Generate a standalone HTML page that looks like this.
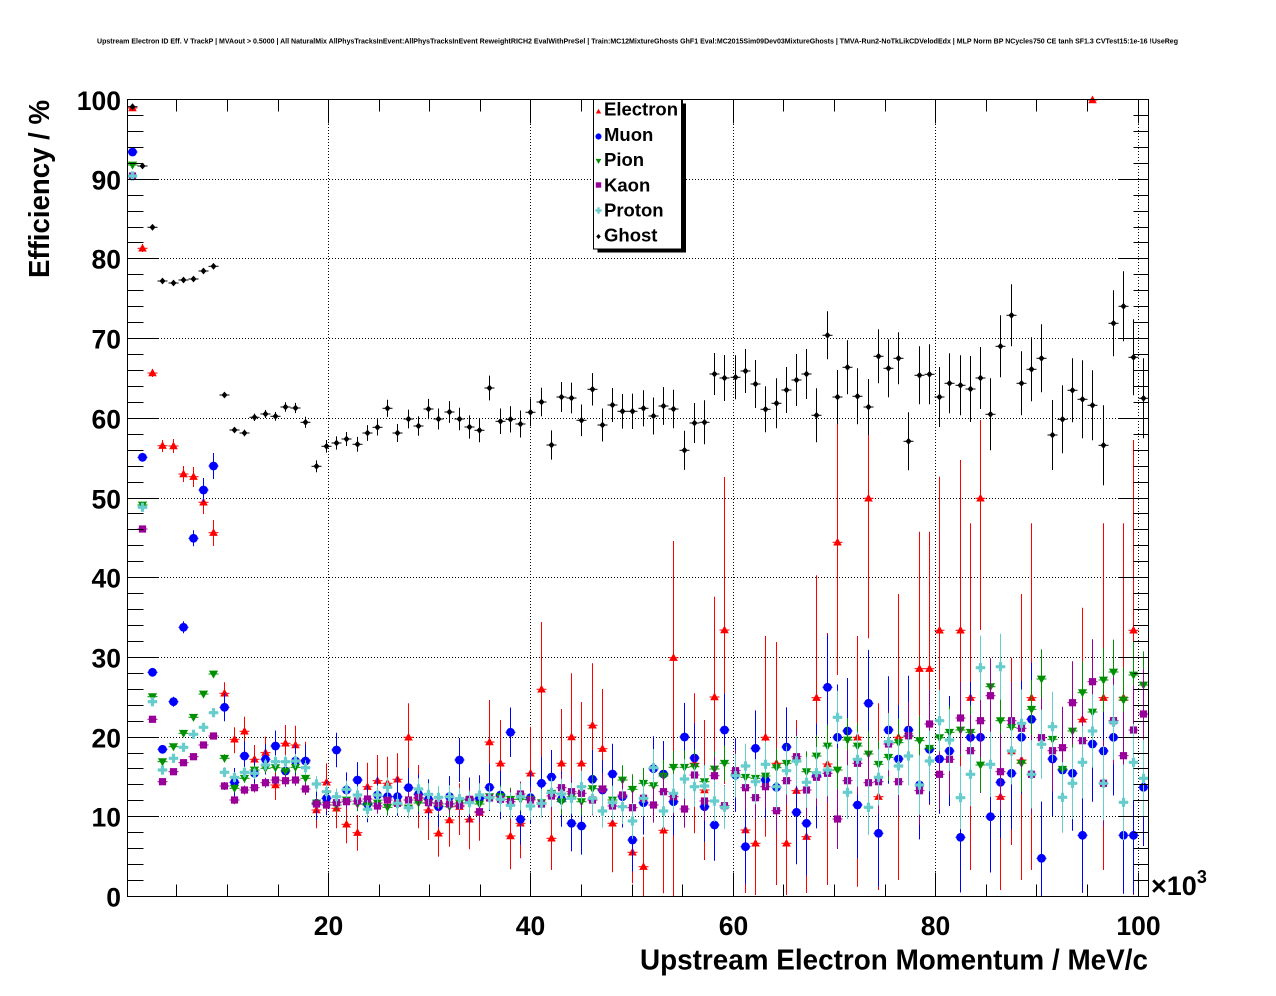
<!DOCTYPE html>
<html><head><meta charset="utf-8"><style>
html,body{margin:0;padding:0;background:#fff;overflow:hidden;}
svg{display:block;}
text{font-family:"Liberation Sans",Arial,sans-serif;font-weight:bold;fill:#000;}
</style></head><body>
<svg id="c" xmlns="http://www.w3.org/2000/svg" width="1276" height="996" viewBox="0 0 1276 996">
<rect width="1276" height="996" fill="#fff"/>
<text x="97" y="43.5" font-size="7.4" textLength="1081" lengthAdjust="spacingAndGlyphs">Upstream Electron ID Eff. V TrackP | MVAout &gt; 0.5000 | All NaturalMix AllPhysTracksInEvent:AllPhysTracksInEvent ReweightRICH2 EvalWithPreSel | Train:MC12MixtureGhosts GhF1 Eval:MC2015Sim09Dev03MixtureGhosts | TMVA-Run2-NoTkLikCDVelodEdx | MLP Norm BP NCycles750 CE tanh SF1.3 CVTest15:1e-16 !UseReg</text>
<g id="grid" stroke="#000" stroke-width="1" stroke-dasharray="1,2" fill="none"></g>
<g id="data" stroke-width="1"></g>
<g id="ticks" stroke="#000" stroke-width="1" fill="none"></g>
<rect x="127.5" y="99.5" width="1021" height="797" fill="none" stroke="#000" stroke-width="1"/>
<g font-size="26.5" text-anchor="end">
<text x="121" y="906.5">0</text>
<text x="121" y="826.5">10</text>
<text x="121" y="747.5">20</text>
<text x="121" y="667.5">30</text>
<text x="121" y="587.5">40</text>
<text x="121" y="508.5">50</text>
<text x="121" y="428.5">60</text>
<text x="121" y="348.5">70</text>
<text x="121" y="268.5">80</text>
<text x="121" y="189.5">90</text>
<text x="121" y="110">100</text>
</g>
<g font-size="26.5" text-anchor="middle">
<text x="328.5" y="935">20</text>
<text x="530.5" y="935">40</text>
<text x="733.5" y="935">60</text>
<text x="935.5" y="935">80</text>
<text x="1138.5" y="935">100</text>
</g>
<text x="1151" y="895" font-size="27">×10<tspan font-size="18" dy="-12">3</tspan></text>
<text x="1148" y="969.5" font-size="29" text-anchor="end" textLength="508" lengthAdjust="spacingAndGlyphs">Upstream Electron Momentum / MeV/c</text>
<text transform="translate(49,100) rotate(-90)" font-size="29" text-anchor="end" textLength="178" lengthAdjust="spacingAndGlyphs">Efficiency / %</text>
<g id="legend">
<rect x="597.5" y="103.5" width="88.5" height="149" fill="#000"/>
<rect x="593.5" y="99.5" width="88" height="149.5" fill="#fff" stroke="#000" stroke-width="1"/>
<g font-size="18.5">
<text x="604" y="115.7">Electron</text>
<text x="604" y="140.9">Muon</text>
<text x="604" y="166.1">Pion</text>
<text x="604" y="191.3">Kaon</text>
<text x="604" y="216.5">Proton</text>
<text x="604" y="241.7">Ghost</text>
</g>
<g id="legm"></g>
</g>
</svg>
<script>
(function(){
var NS='http://www.w3.org/2000/svg';
function el(t,a,p){var e=document.createElementNS(NS,t);for(var k in a)e.setAttribute(k,a[k]);p.appendChild(e);return e;}
var grid=document.getElementById('grid'),ticks=document.getElementById('ticks'),data=document.getElementById('data'),legm=document.getElementById('legm');
// grid
[328.5,530.5,733.5,935.5,1138.5].forEach(function(x){el('line',{x1:x,y1:100,x2:x,y2:896},grid);});
[179,258,338,418,498,577,657,737,816].forEach(function(y){el('line',{x1:128,y1:y+.5,x2:1148,y2:y+.5},grid);});
// ticks
var d='';
for(var k=1;k<=20;k++){var x=Math.floor(126.3+50.585*k)+.5;if(x>1148)continue;var L=(k%4==0)?24:12;
 d+='M'+x+' 896.5V'+(896.5-L)+'M'+x+' 99.5V'+(99.5+L);}
for(var k=1;k<=49;k++){var y=Math.round(896-15.94*k)+.5;var L1=(k%5==0)?31:16,L2=(k%5==0)?30:15;
 d+='M127.5 '+y+'H'+(127.5+L1)+'M1148.5 '+y+'H'+(1148.5-L2);}
el('path',{d:d},ticks);
function X(i){return 131.7+10.22*i;}
function mk(type,x,y,c,s,p){
 if(type=='tu'){el('polygon',{points:(x)+','+(y-4.5*s)+' '+(x-4.3*s)+','+(y+3.2*s)+' '+(x+4.3*s)+','+(y+3.2*s),fill:c},p);}
 else if(type=='td'){el('polygon',{points:(x-4.6*s)+','+(y-3.4*s)+' '+(x+4.6*s)+','+(y-3.4*s)+' '+(x)+','+(y+4.6*s),fill:c},p);}
 else if(type=='ci'){el('circle',{cx:x,cy:y,r:4.4*s,fill:c},p);}
 else if(type=='sq'){el('rect',{x:x-3.6*s,y:y-3.6*s,width:7.2*s,height:7.2*s,fill:c},p);}
 else if(type=='cr'){var a=4.6*s,b=1.6*s;el('path',{d:'M'+(x-b)+' '+(y-a)+'H'+(x+b)+'V'+(y-b)+'H'+(x+a)+'V'+(y+b)+'H'+(x+b)+'V'+(y+a)+'H'+(x-b)+'V'+(y+b)+'H'+(x-a)+'V'+(y-b)+'H'+(x-b)+'Z',fill:c},p);}
 else if(type=='di'){el('polygon',{points:x+','+(y-3.4*s)+' '+(x+3*s)+','+y+' '+x+','+(y+3.4*s)+' '+(x-3*s)+','+y,fill:c},p);}
}
function clamp(v){return Math.max(99.5,Math.min(896,v));}
function series(ys,errf,c,type){
 var g=el('g',{stroke:c},data);
 for(var i=0;i<ys.length;i++){var v=ys[i];if(v==null)continue;var y,t,b;
  if(typeof v=='object'){y=v[0];t=v[1];b=v[2];}else{y=v;var e=errf(i);t=y-e;b=y+e;}
  var x=Math.round(X(i))+.5;
  el('line',{x1:x-5,y1:y,x2:x+5,y2:y},g);
  el('line',{x1:x,y1:clamp(t),x2:x,y2:clamp(b)},g);
 }
 var gm=el('g',{stroke:'none'},data);
 for(var i=0;i<ys.length;i++){var v=ys[i];if(v==null)continue;var y=(typeof v=='object')?v[0]:v;
  mk(type,Math.round(X(i))+.5,y,c,1,gm);}
}
var E=[[108,105,111],[248.3,244,252],[373,369,377],[445.7,440,452],[446,439,453],[474,466,482],[476.7,467,487],[502.3,490,514],[532.7,520,546],[693.3,682.3,703.3],
[739.3,727.3,753.3],[731.3,716.7,745],[759.3,745,773.3],[752.7,736.7,768.3],[785,770,800],[743.3,725,761.7],[745,725.7,761.7],[760,741.7,776.7],[810,786.7,828.3],[782.3,763.3,800],
[808.3,791.7,828.3],[824.3,805,843.3],[832.7,815,850.7],[786.7,762.7,806.7],[780.7,755,805],[783.3,756.7,806.7],[779.3,753.3,806.7],[737.3,703.3,773.3],[798.3,765,828.3],[810,781.7,840],
[833.3,810,856.7],[820,793.3,846.7],[806.7,783.3,835],[819.3,793.3,849.3],[812.7,790,840.7],[742,700,790],[763.3,720,806.7],[836,803.3,869.3],[823.3,796.7,858.3],[773.3,726.7,816.7],
[689.3,622,758.3],[838.3,793.3,870],[763.3,709,816.7],[737,673.3,790],[763.3,702,823.3],[725.3,663.3,786.7],[748.7,689,808.3],[823.3,776.7,872.3],null,[852.3,830,883.3],
[866.7,836.7,896],null,[830.3,773.3,893.3],[657.7,541,896],null,[763.3,693.3,833.3],[790,720,860],[697,596.7,841.7],[630,477,784],null,
[830,776,893],[843.3,790,895],[737.3,636,836.7],[763.3,642,885],[843.3,746.7,895],[790.7,720,860],[836.7,754,893],[697.7,575.3,820],[764,633,885],[542.3,400,675],
null,[737.3,636,886.7],[498.3,430,638.3],[796.7,703.3,890],null,[737.3,594,880],null,[668.7,531.7,831.7],[668.7,531.7,805],[630.3,476.7,810],
null,[630.3,460,770],[697.7,523.3,870],[498.3,420,630],null,[796.7,690,890],[751,657.7,845],[760,594,880],[697.7,523.3,870],null,
null,null,null,[719.3,607.7,880],[100,100,100],[697.7,523.3,870],null,[697.7,523.3,893.3],[630.3,440,895],null];
var M=[152,457.3,672.3,749.3,701.7,627.3,538.3,490,466,707.3,
782.3,756,773.3,759.3,746,771,761,761,803.3,798.3,
750,790,780,804,795,796.7,796.7,787.7,794.3,799.3,
806.7,796.7,760,800,798.3,787.3,795,732.3,819.3,797.7,
783.3,777,799.3,823.3,826,779.3,790,774,796.7,840,
802.7,768.7,774,801.7,737,758,806.7,825,730,775,
846.7,748.3,780,787.3,747,812.3,823.3,776,687.3,737.3,
731,805,703.3,833.3,730,759,730,785,749.3,759,
751,837.3,737.3,737.3,816.7,782.3,773.3,737.3,719.3,858.3,
759,770,773.3,835.3,744,751,737.3,835.3,835.3,787.3];
var P=[165,505,696.7,761.7,746.7,733.3,717.3,694,674,758.3,
788.3,778.3,770,768.3,767.7,771,767.3,778.3,803,805,
805,800,804,805,803,807.3,805,808,803,803,
805,806.7,803,800,804,796.7,796.7,799.3,799.3,799.3,
802.7,793.3,801.7,796.7,801.7,788.7,789,800,780,789.3,
783.3,785.7,776,767.3,767.3,766.7,781.7,769,763.3,776,
777.3,778.3,776,767.7,763.3,761.7,771.7,756,746,770,
740,746,754,764.3,757.3,742.7,736.7,740.7,748.3,737.7,
732.3,730,732.3,765,686.7,720.7,727.3,763.3,709.3,679,
739.3,769.3,731,692.7,712,680,672,700,675,685];
var K=[176,529,719.3,781.7,771.7,762.7,756.7,745,736,786,
800,790,787.7,782.7,780,780.7,780,789,804,805,
802.7,801.7,801,799,806,800,803.3,800,797.3,802.7,
803.3,804,805.3,799.3,811.7,798,799.3,801.7,794,800,
804,796,787.7,791.7,793.3,800,789,806,795,807.7,
798.3,805,791.7,796.7,809,775,801,775.7,805.7,770.7,
787.7,797.7,786.7,810.7,780.7,756.7,790,777.3,773.3,819,
780.7,763.3,782.7,781.7,744,781.7,735.7,790.7,724,774.3,
759.3,718,750.7,720.7,695.7,771.7,720.7,728.3,774.3,737.7,
750.7,747.7,702.7,740.7,681.7,783.3,720.7,755.7,730,714];
var R=[176,507.3,701.7,770,758.3,747.3,734.3,727.3,712.7,772.3,
777.3,772.3,773.3,765,761.7,761.7,761,767.7,784,791.7,
796.7,789.3,795,809.3,795,787.3,803.3,807.7,789,794.3,
797.3,796.7,798.7,802.7,795,797.7,799.3,805.3,796.7,806,
803.3,792.3,794,798.3,786.7,798.3,811,802.7,806.7,821,
798.3,767.7,811,793.3,779,786.7,786,801,807.3,775.7,
766,781.7,764.3,786.7,770.7,761,782.3,772.7,770,717.3,
792.3,759.3,807.3,777.3,741.7,766,756,785,761,720.7,
740,797.7,774.3,667.7,764.3,666.7,751,723.3,774.3,744.3,
726.7,797.3,783.3,762.3,731,783.3,722.3,802.3,762.3,778.3];
var G=[106.7,166,227.3,281,283,280,279,271,266.3,395,
430,433,417.3,414,416.3,407,408,422.3,466.3,446.3,
443,439,444.3,433,427.3,408.3,433,419,426,409,
419,412,419,427,430.3,388,421.3,419.3,424,412.3,
402,445,397,398,420.3,389.3,425,405,411.3,411.3,
408.3,416,406,409,450.3,423,422.3,374,378,377.3,
371,384,409.3,403.3,390,380,374,415.3,335.3,397,
367.3,396.3,407,356.3,368.3,358.3,441.3,375.3,374.3,397,
383.3,385.3,389,378,414.3,346.3,315.3,383.3,369.3,358.3,
435,419.3,390.3,399.3,405.3,445.3,323.3,306.3,357.3,398.3];
var GEr=[20,22,21,23,22,22,24,23,25,23,26,25,27,24,27,27,28,28,27,29,26,29,29,30,30,30,30,33,31,36,31,31,32,32,34,35,34,32,39,35,40,33,35,38,40];
function muErr(i){if(i<9)return [3,3,3,4,5,6,8,12,13][i];if(i<32)return 14+(i-9)*0.3;if(i<65)return 22+(i-32)*0.55;return 52+(i-65)*0.2;}
function pErr(i){if(i<9)return 2.5;if(i<32)return 4+(i-9)*0.25;if(i<65)return 10+(i-32)*0.3;return 20+(i-65)*0.4;}
function kErr(i){if(i<9)return 2.5;if(i<32)return 4+(i-9)*0.25;if(i<65)return 10+(i-32)*0.4;return 28+(i-65)*0.5;}
function rErr(i){if(i<9)return 3;if(i<32)return 5+(i-9)*0.3;if(i<65)return 11+(i-32)*0.4;return 25+(i-65)*0.4;}
function gErr(i){if(i<9)return 2;if(i<55)return 2.5+(i-9)*0.38;return GEr[i-55];}
series(E,null,'#ff0000','tu');
series(M,muErr,'#0000ff','ci');
series(P,pErr,'#009000','td');
series(K,kErr,'#990099','sq');
series(R,rErr,'#66cccc','cr');
series(G,gErr,'#000000','di');
// legend markers
mk('tu',598.5,111.5,'#ff0000',0.62,legm);
mk('ci',598.5,136.5,'#0000ff',0.7,legm);
mk('td',598.5,161,'#009000',0.62,legm);
mk('sq',598.5,185,'#990099',0.75,legm);
mk('cr',598.5,210.5,'#66cccc',0.7,legm);
mk('di',598.5,236.5,'#000000',0.75,legm);
})();
</script>
</body></html>
